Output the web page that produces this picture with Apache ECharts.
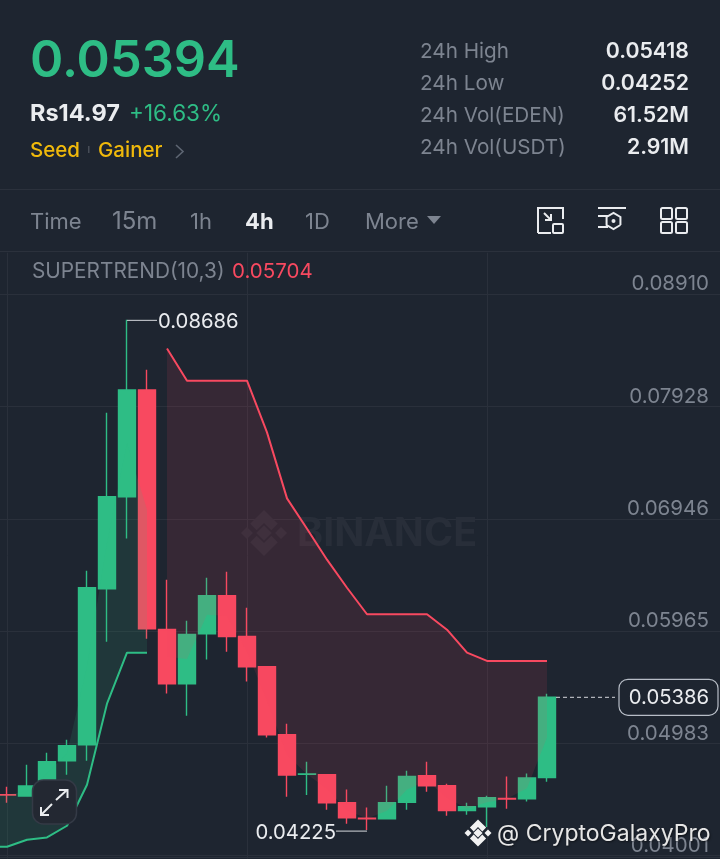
<!DOCTYPE html>
<html><head><meta charset="utf-8">
<style>html,body{margin:0;padding:0;background:#1e2530}#c{width:720px;height:859px}</style>
<script src="https://cdn.jsdelivr.net/npm/echarts@6/dist/echarts.min.js"></script>
</head><body><div id="c"></div>
<script>
// values; index 0 is the first visible candle
const opens  = [.04535,.04523,.04612,.04831,.04971,.06335,.07140,.08072,.05979,.05505,.05942,.06274,.05918,.05653,.05059,.04712,.04709,.04464,.04328,.04324,.04467,.04700,.04613,.04397,.04429,.04501,.04499,.04685];
const closes = [.04531,.04610,.04823,.04963,.06344,.07140,.08072,.05985,.05505,.05936,.06274,.05918,.05653,.05059,.04706,.04716,.04464,.04333,.04324,.04464,.04694,.04613,.04397,.04429,.04508,.04497,.04680,.05386];
const lows   = [.04464,.04521,.04569,.04709,.04831,.05872,.06775,.05898,.05420,.05225,.05717,.05784,.05525,.05035,.04517,.04531,.04403,.04281,.04225,.04322,.04403,.04560,.04350,.04359,.04252,.04412,.04476,.04648];
const highs  = [.04604,.04796,.04901,.05015,.06493,.07874,.08686,.08250,.06414,.06055,.06431,.06484,.06169,.05660,.05155,.04823,.04712,.04580,.04423,.04613,.04744,.04823,.04630,.04464,.04525,.04694,.04720,.05418];
// supertrend up (one point before the first candle, then candles 0..7)
const trendUpLine = [.04078,.04080,.04141,.04161,.04263,.04622,.05330,.05776,.05776];
const trendUpMid  = [.04531,.04533,.04566,.04717,.04897,.05657,.06737,.07606,.07028];
// supertrend down (candles 8..27)
const trendDownLine = [.08436,.08154,.08154,.08154,.08154,.07702,.07125,.06860,.06589,.06344,.06112,.06112,.06112,.06112,.05977,.05776,.05704,.05704,.05704,.05704];
const trendDownMid  = [.05741,.05720,.06108,.06096,.05785,.05356,.04882,.04714,.04586,.04398,.04326,.04394,.04580,.04656,.04505,.04413,.04468,.04499,.04590,.05035];
const priceTicks = [.04001,.04983,.05965,.06946,.07928,.08910];
const lastPrice = .05386, highMark = .08686, lowMark = .04225;
const categoryCount = 38;
const categories = Array.from({length:categoryCount},(_, i)=>'K'+i);

const BG='#1e2530',GREEN='#2ebd85',RED='#f84960',GRID='#2a303b',GRAY='#7d8490',WHITE='#eaecef',YEL='#f0b90b';
const FONT='Inter, "Noto Sans", sans-serif';
const pad=(arr,start)=>{const o=new Array(categoryCount).fill(null);arr.forEach((v,i)=>o[start+i]=v);return o;};
const candleData=pad(opens.map((o,i)=>[o,closes[i],lows[i],highs[i]]),1).map(d=>d||'-');
const bandOf=(u,m)=>u.map((v,i)=>v-m[i]);

function bandSeries(name,base,band,start,color){
  return [
   {name:name+'Base',type:'line',stack:name,data:pad(base,start),symbol:'none',lineStyle:{opacity:0},z:5,silent:true},
   {name:name+'Band',type:'line',stack:name,data:pad(band,start),symbol:'none',lineStyle:{opacity:0},areaStyle:{color:color,opacity:1},z:5,silent:true}
  ];
}
function lineSeries(name,data,start,color){
  return {name,type:'line',data:pad(data,start),symbol:'none',lineStyle:{color,width:2},z:6,silent:true};
}
function text(t,x,y,size,fill,weight,align){
  return {type:'text',z:50,style:{text:t,x,y,fill,font:(weight||400)+' '+size+'px '+FONT,textAlign:align||'left',textVerticalAlign:'middle'}};
}
const st=(w,c)=>({fill:'none',stroke:c||WHITE,lineWidth:w||2});
const poly=(pts,w,c)=>({type:'polyline',z:50,shape:{points:pts},style:st(w,c)});
const rr=(x,y,w,h,r,s)=>({type:'rect',z:50,shape:{x,y,width:w,height:h,r},style:s});
function diamond(cx,cy,r,fill,z){return {type:'polygon',z:z,shape:{points:[[cx,cy-r],[cx+r,cy],[cx,cy+r],[cx-r,cy]]},style:{fill}};}
function binanceLogo(cx,cy,s,fill,z){
  const out=[diamond(cx,cy,.17*s,fill,z),diamond(cx-.37*s,cy,.13*s,fill,z),diamond(cx+.37*s,cy,.13*s,fill,z)];
  out.push({type:'polygon',z,shape:{points:[[cx,cy-.5*s],[cx+.3*s,cy-.2*s],[cx+.16*s,cy-.06*s],[cx,cy-.22*s],[cx-.16*s,cy-.06*s],[cx-.3*s,cy-.2*s]]},style:{fill}});
  out.push({type:'polygon',z,shape:{points:[[cx,cy+.5*s],[cx+.3*s,cy+.2*s],[cx+.16*s,cy+.06*s],[cx,cy+.22*s],[cx-.16*s,cy+.06*s],[cx-.3*s,cy+.2*s]]},style:{fill}});
  return out;
}
const hex=[];for(let a=0;a<=6;a++){const t=Math.PI/3*a+Math.PI/6;hex.push([613.5+8*Math.cos(t),221+8*Math.sin(t)]);}

const graphics=[
  ...binanceLogo(264,533,46,'#282e39',1),
  {type:'text',z:1,style:{text:'BINANCE',x:297,y:534,fill:'#282e39',font:'700 39.5px '+FONT,textVerticalAlign:'middle'}},
  {type:'rect',z:50,shape:{x:0,y:189,width:720,height:1},style:{fill:'#2b313c'}},
  {type:'rect',z:50,shape:{x:0,y:251,width:720,height:1},style:{fill:'#2b313c'}},
  {type:'rect',z:50,shape:{x:0,y:857,width:720,height:1},style:{fill:'#2b313c'}},
  text('0.05394',30,62,50.5,GREEN,600),
  text('Rs14.97',30,114,23.5,WHITE,700),
  text('+16.63%',129,114,22.5,GREEN,400),
  text('Seed',30,151,20.5,YEL,500),
  {type:'rect',z:50,shape:{x:88,y:146,width:1.5,height:7},style:{fill:'#474d57'}},
  text('Gainer',98,151,20.5,YEL,500),
  poly([[176,145],[183,151.5],[176,158]],1.6,'#5e6673'),
  text('24h High',420,52,20.7,GRAY),text('24h Low',420,84,20.7,GRAY),text('24h Vol(EDEN)',420,116,20.7,GRAY),text('24h Vol(USDT)',420,148,20.7,GRAY),
  text('0.05418',689,52,21.3,WHITE,600,'right'),text('0.04252',689,84,21.3,WHITE,600,'right'),text('61.52M',689,116,21.3,WHITE,600,'right'),text('2.91M',689,148,21.3,WHITE,600,'right'),
  text('Time',30,222,22,GRAY),text('15m',112,222,24,GRAY),text('1h',190,222,22,GRAY),text('4h',245,222,22,WHITE,700),text('1D',305,222,22,GRAY),text('More',365,222,22,GRAY),
  {type:'polygon',z:50,shape:{points:[[427,216],[441,216],[434,224]]},style:{fill:GRAY}},
  poly([[538,233],[538,208],[563,208],[563,219]]),poly([[538,233],[551,233]]),
  rr(553,224,10,9,1,st()),poly([[544,213],[551,220]]),poly([[551,214],[551,220],[545,220]]),
  poly([[598,208],[626,208]]),poly([[598,216],[608,216]]),poly([[598,227],[608,227]]),poly(hex),
  {type:'circle',z:50,shape:{cx:613.5,cy:221,r:2},style:{fill:WHITE}},
  rr(661,208,11,11,1.5,st()),rr(676,208,11,11,1.5,st()),rr(661,222,11,11,1.5,st()),rr(676,222,11,11,1.5,st()),
  text('SUPERTREND(10,3)',32,272,20.8,GRAY),text('0.05704',232,272,20.5,RED),
  rr(32.5,780,44,44,11,{fill:'#232832',stroke:'#343a46',lineWidth:1.5}),
  poly([[56,800],[67,790]],2,WHITE),poly([[59,790],[67.5,790],[67.5,798]],2,WHITE),
  poly([[52,804],[41,815]],2,WHITE),poly([[41,807],[41,815],[49,815]],2,WHITE),
  ...binanceLogo(478,833,27,'#f2f2f2',50),
  {type:'text',z:50,style:{text:'@ CryptoGalaxyPro',x:497,y:834,fill:'#e6e6e6',font:'400 23px '+FONT,textVerticalAlign:'middle',textShadowColor:'rgba(0,0,0,.5)',textShadowBlur:2,textShadowOffsetX:1,textShadowOffsetY:1}}
];

const option={
 backgroundColor:BG,animation:false,
 grid:{left:-23,top:252.7,width:760,height:606,containLabel:false,outerBoundsMode:'none'},
 xAxis:{type:'category',data:categories,boundaryGap:true,axisLine:{show:false},axisTick:{show:false},axisLabel:{show:false},
   splitLine:{show:true,alignWithLabel:true,interval:(i)=>i%12===1,lineStyle:{color:GRID,width:1}}},
 yAxis:{type:'value',position:'right',min:.03975,max:.09273,scale:true,axisLine:{show:false},
   axisTick:{show:false,customValues:priceTicks},
   axisLabel:{inside:true,margin:28,customValues:priceTicks,formatter:v=>v.toFixed(5),color:GRAY,fontFamily:FONT,fontSize:20.5,verticalAlign:'bottom',lineHeight:20,showMinLabel:true,showMaxLabel:true},
   splitLine:{show:true,lineStyle:{color:GRID,width:1}}},
 series:[
  {name:'EDEN',type:'candlestick',data:candleData,barWidth:17,z:3,silent:true,
   itemStyle:{color:GREEN,color0:RED,borderColor:GREEN,borderColor0:RED,borderWidth:1.4}},
  ...bandSeries('up',trendUpLine,bandOf(trendUpMid,trendUpLine),0,'rgba(46,189,133,.12)'),
  ...bandSeries('down',trendDownMid,bandOf(trendDownLine,trendDownMid),9,'rgba(248,73,96,.115)'),
  lineSeries('upLine',trendUpLine,0,GREEN),
  lineSeries('downLine',trendDownLine,9,RED),
  {name:'marks',type:'custom',z:8,silent:true,clip:false,
   data:[[opens.length,lastPrice]],
   encode:{x:0,y:1},
   renderItem:(p,api)=>{
     const hi=api.coord([highs.indexOf(highMark)+1,highMark]);
     const lo=api.coord([lows.indexOf(lowMark)+1,lowMark]);
     const la=api.coord([opens.length,lastPrice]);
     const t=(s,x,y,fill,align)=>({type:'text',style:{text:s,x,y,fill,font:'400 20.3px '+FONT,textAlign:align,textVerticalAlign:'middle'}});
     const seg=(x1,y1,x2,y2,dash)=>({type:'line',shape:{x1,y1,x2,y2},style:{stroke:'#d5d8dc',lineWidth:1,lineDash:dash||null}});
     return {type:'group',children:[
       seg(hi[0],hi[1]+.5,hi[0]+30,hi[1]+.5),t(highMark.toFixed(5),hi[0]+31,hi[1]+2,WHITE,'left'),
       seg(lo[0],lo[1]+1,lo[0]-31,lo[1]+1),t(lowMark.toFixed(5),lo[0]-31,lo[1]+3,WHITE,'right'),
       seg(la[0]+9,la[1],615,la[1],[4,3]),
       {type:'rect',shape:{x:619,y:la[1]-18,width:99,height:36,r:9},style:{fill:BG,stroke:'#b7bdc6',lineWidth:1.2}},
       t(lastPrice.toFixed(5),669,la[1]+1,WHITE,'center')
     ]};
   }}
 ],
 graphic:graphics
};
echarts.init(document.getElementById('c')).setOption(option);
</script></body></html>
